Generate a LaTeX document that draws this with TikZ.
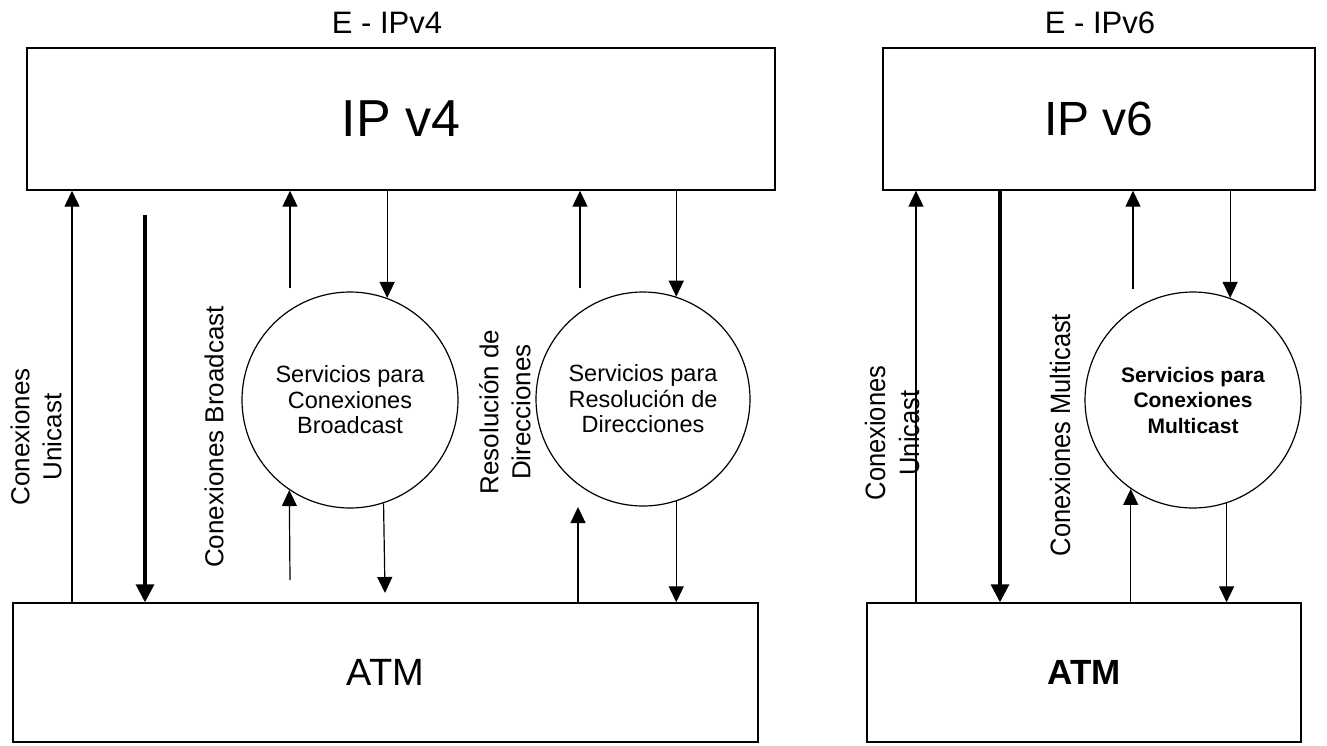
\documentclass[tikz,border=0pt]{standalone}
\usepackage{fontspec}
\setmainfont{Liberation Sans}
\usetikzlibrary{arrows.meta,shapes.geometric}
\newcommand{\narrowtxt}[1]{\scalebox{0.91}[1]{#1}}
\begin{document}
\begin{tikzpicture}[x=1pt,y=-1pt,
  layerbox/.style={draw, line width=1.4pt, rectangle, inner sep=0pt, anchor=center},
  svc/.style={draw, circle, line width=1.2pt, inner sep=0pt, minimum size=216pt, align=center, font=\fontsize{23.5}{25.5}\selectfont},
  vlabel/.style={rotate=90, align=center, inner sep=0pt, font=\fontsize{26}{32}\selectfont},
  vlabelnarrow/.style={rotate=90, align=center, inner sep=0pt, font=\fontsize{28}{34}\selectfont},
  title/.style={inner sep=0pt, font=\fontsize{31}{34}\selectfont},
  thinarrow/.style={line width=1.2pt, -{Triangle[width=15pt,length=16pt]}},
  thickarrow/.style={line width=3.4pt, -{Triangle[width=18pt,length=18pt]}}
]
\useasboundingbox (0,0) rectangle (1327,745);

% titles
\node[title] (t4) at (387,23) {E - IPv4};
\node[title] (t6) at (1100,23) {E - IPv6};

% layer boxes
\node[layerbox, minimum width=748pt, minimum height=142pt, font=\fontsize{52}{54}\selectfont] (ipv4) at (401,119) {IP v4};
\node[layerbox, minimum width=432pt, minimum height=142pt, font=\fontsize{48}{50}\selectfont] (ipv6) at (1099,119) {IP v6};
\node[layerbox, minimum width=745pt, minimum height=139pt, font=\fontsize{38}{40}\selectfont] (atm4) at (385.5,672.5) {ATM};
\node[layerbox, minimum width=434pt, minimum height=139pt, font=\fontsize{35}{40}\selectfont\bfseries] (atm6) at (1084,672.5) {ATM};

% service circles
\node[svc] (e1) at (350,400) {Servicios para\\Conexiones\\Broadcast};
\node[svc, minimum size=214pt] (e2) at (643,399) {Servicios para\\Resolución de\\Direcciones};
\node[svc, font=\fontsize{21}{25.5}\selectfont\bfseries] (e3) at (1193,400) {Servicios para\\Conexiones\\Multicast};

% vertical labels
\node[vlabel] (lu4) at (36,437) {Conexiones\\Unicast};
\node[vlabel] (lb) at (214,437) {Conexiones Broadcast};
\node[vlabel] (lr) at (505,412) {Resolución de\\Direcciones};
\node[vlabelnarrow] (lu6) at (892,433) {\narrowtxt{Conexiones}\\\narrowtxt{Unicast}};
\node[vlabelnarrow] (lm) at (1060,435) {\narrowtxt{Conexiones Multicast}};

% free ends
\coordinate (u4) at (72,0);
\coordinate (k4) at (145,215);
\coordinate (b1) at (290,288);
\coordinate (b2) at (290,580);
\coordinate (b3) at (385,593);
\coordinate (r1) at (580,288);
\coordinate (r2) at (578,507);
\coordinate (u6) at (916,0);
\coordinate (k6) at (1000,0);
\coordinate (m1) at (1133,289);

% IPv4 side connectors
\draw[thinarrow] (atm4.north -| u4) -- (ipv4.south -| u4);
\draw[thickarrow] (k4) -- (atm4.north -| k4);
\draw[thinarrow] (b1) -- (ipv4.south -| b1);
\draw[thinarrow] (ipv4.south -| e1.70) -- (e1.70);
\draw[thinarrow] (b2) -- (e1.236.3);
\draw[thinarrow] (e1.288.9) -- (b3);
\draw[thinarrow] (r1) -- (ipv4.south -| r1);
\draw[thinarrow] (ipv4.south -| e2.72) -- (e2.72);
\draw[thinarrow] (atm4.north -| r2) -- (r2);
\draw[thinarrow] (e2.288) -- (atm4.north -| e2.288);

% IPv6 side connectors
\draw[thinarrow] (atm6.north -| u6) -- (ipv6.south -| u6);
\draw[thickarrow] (ipv6.south -| k6) -- (atm6.north -| k6);
\draw[thinarrow] (m1) -- (ipv6.south -| m1);
\draw[thinarrow] (ipv6.south -| e3.70) -- (e3.70);
\draw[thinarrow] (atm6.north -| e3.235.6) -- (e3.235.6);
\draw[thinarrow] (e3.288.9) -- (atm6.north -| e3.288.9);
\end{tikzpicture}
\end{document}
